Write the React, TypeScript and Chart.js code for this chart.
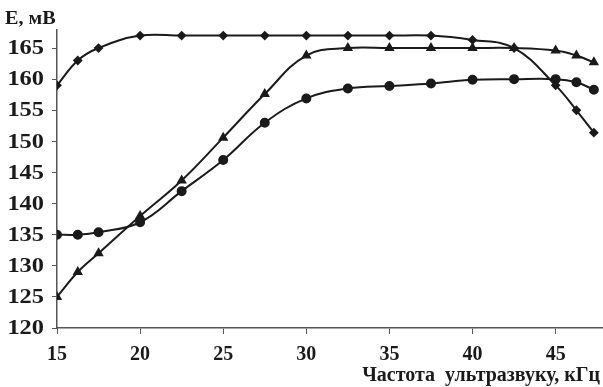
import React, { useEffect, useRef } from "react";
import { Chart, registerables } from "chart.js";

Chart.register(...registerables);

const frequency = [15, 16.25, 17.5, 20, 22.5, 25, 27.5, 30, 32.5, 35, 37.5, 40, 42.5, 45, 46.25, 47.3];
const seriesDiamond = [159, 163, 165, 167, 167, 167, 167, 167, 167, 167, 167, 166.3, 165, 159, 155, 151.4];
const seriesTriangle = [125, 129, 132, 138, 143.7, 150.6, 157.6, 163.8, 165, 165, 165, 165, 165, 164.6, 163.8, 162.7];
const seriesCircle = [135, 135, 135.4, 137, 142, 147, 153, 156.9, 158.5, 158.9, 159.3, 159.9, 160, 160, 159.5, 158.3];

const yTitle = "E, мВ";
const xTitle = "Частота  ультразвуку, кГц";

const FONT = "'Liberation Serif', 'Times New Roman', serif";
const INK = "#1a1a1a";

function toPoints(values: number[]) {
  return values.map((v, i) => ({ x: frequency[i], y: v }));
}

const titlesPlugin = {
  id: "axisTitles",
  afterDraw(chart: any) {
    const { ctx } = chart;
    const yScale = chart.scales.y;
    ctx.save();
    ctx.fillStyle = INK;
    // y tick labels, slightly widened like the reference
    ctx.font = `bold 20px ${FONT}`;
    ctx.textAlign = "right";
    ctx.textBaseline = "middle";
    yScale.ticks.forEach((t: any) => {
      const py = yScale.getPixelForValue(t.value);
      ctx.save();
      ctx.translate(44, py + 1);
      ctx.scale(1.22, 1);
      ctx.fillText(String(t.value), 0, 0);
      ctx.restore();
    });
    // axis titles
    ctx.textBaseline = "alphabetic";
    ctx.textAlign = "left";
    ctx.font = `bold 18px ${FONT}`;
    ctx.save();
    ctx.translate(5, 24);
    ctx.scale(1.12, 1);
    ctx.fillText(yTitle, 0, 0);
    ctx.restore();
    ctx.font = `bold 20px ${FONT}`;
    ctx.textAlign = "right";
    ctx.fillText(xTitle, chart.width - 3, 381);
    ctx.restore();
  },
};

export default function App() {
  const canvasRef = useRef<HTMLCanvasElement | null>(null);

  useEffect(() => {
    document.body.style.margin = "0";
    const canvas = canvasRef.current;
    if (!canvas) return;
    const common = {
      borderColor: INK,
      backgroundColor: INK,
      pointBackgroundColor: INK,
      pointBorderColor: INK,
      borderWidth: 2,
      tension: 0.4,
      fill: false,
    };
    const chart = new Chart(canvas, {
      type: "line",
      data: {
        datasets: [
          { ...common, label: "1", data: toPoints(seriesDiamond), pointStyle: "rectRot", pointRadius: 3.5 },
          { ...common, label: "2", data: toPoints(seriesTriangle), pointStyle: "triangle", pointRadius: 4 },
          { ...common, label: "3", data: toPoints(seriesCircle), pointStyle: "circle", pointRadius: 4 },
        ],
      },
      options: {
        responsive: false,
        animation: false,
        layout: { autoPadding: false, padding: { top: 30, right: 0, left: 0, bottom: 0 } },
        plugins: { legend: { display: false }, tooltip: { enabled: false }, title: { display: false } },
        scales: {
          x: {
            type: "linear",
            min: 15,
            max: 47.85,
            border: { color: "#555", width: 1.5 },
            grid: { display: true, drawOnChartArea: false, drawTicks: true, tickLength: 6, color: "#555" },
            ticks: {
              stepSize: 5,
              includeBounds: false,
              color: INK,
              padding: 9,
              maxRotation: 0,
              font: { family: FONT, size: 20, weight: "bold" },
            },
            afterFit: (s: any) => {
              s.height = 59;
            },
          },
          y: {
            type: "linear",
            min: 120,
            max: 167.9,
            border: { color: "#555", width: 1.5 },
            grid: { display: true, drawOnChartArea: false, drawTicks: true, tickLength: 5, color: "#555" },
            ticks: {
              stepSize: 5,
              includeBounds: false,
              display: false,
            },
            afterFit: (s: any) => {
              s.width = 57;
            },
          },
        },
      },
      plugins: [titlesPlugin],
    } as any);
    return () => chart.destroy();
  }, []);

  return <canvas ref={canvasRef} width={603} height={387} style={{ display: "block" }} />;
}
